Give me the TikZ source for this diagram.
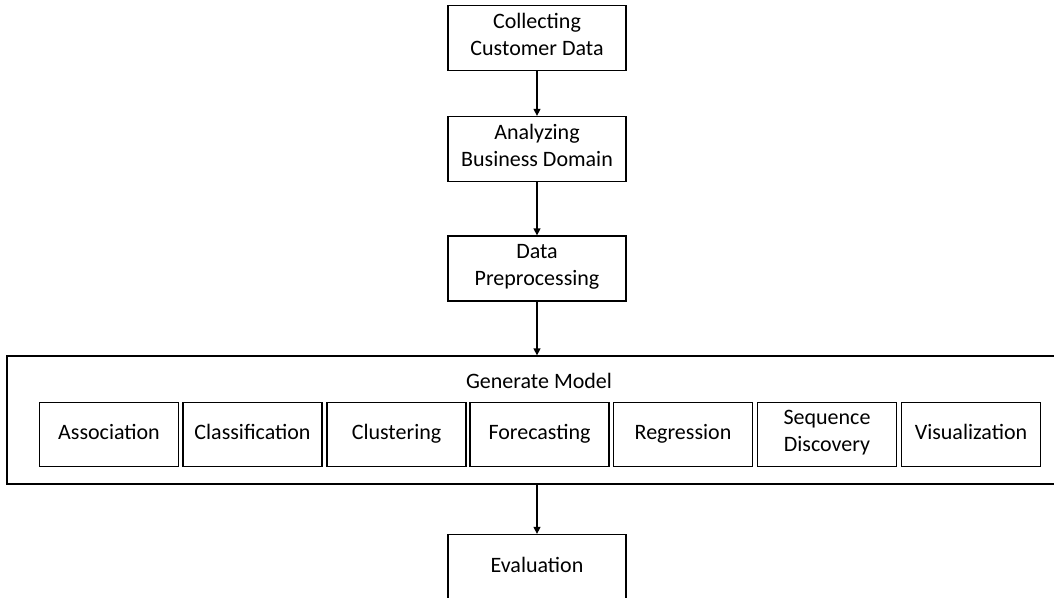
\documentclass[tikz,border=0pt]{standalone}
\usepackage{fontspec}
\setmainfont{Carlito}
\usetikzlibrary{arrows.meta}
\begin{document}
\begin{tikzpicture}[
  x=1pt, y=-1pt,
  font=\fontsize{22}{27}\selectfont,
  box/.style={draw, line width=1.3pt, align=center, inner sep=0pt, minimum width=178pt, minimum height=65pt, execute at begin node=\strut},
  algo/.style={draw, line width=1.3pt, align=center, inner sep=0pt, minimum width=139pt, minimum height=64pt, execute at begin node=\strut},
  arrow/.style={-{Triangle[length=7pt,width=7pt]}, line width=1.3pt}
]
\useasboundingbox (0,0) rectangle (1054,597);
\node[box] (collect) at (537,38) {Collecting\\Customer Data};
\node[box] (analyze) at (537,149) {Analyzing\\Business Domain};
\node[box] (prep) at (537,268.5) {Data\\Preprocessing};
\node[draw, line width=1.3pt, minimum width=1060pt, minimum height=128pt] (model) at (537,420) {};
\node (modeltitle) at (539,381) {Generate Model};
\node[algo] (assoc) at (109,434.5) {Association};
\node[algo] (classif) at (252.5,434.5) {Classification};
\node[algo] (cluster) at (396.5,434.5) {Clustering};
\node[algo] (forecast) at (539.5,434.5) {Forecasting};
\node[algo] (regress) at (683,434.5) {Regression};
\node[algo] (sequence) at (827,434.5) {Sequence\\Discovery};
\node[algo] (visual) at (971,434.5) {Visualization};
\node[box] (eval) at (537,567) {Evaluation};
\draw[arrow] (collect) -- (analyze);
\draw[arrow] (analyze) -- (prep);
\draw[arrow] (prep) -- (model);
\draw[arrow] (model) -- (eval);
\end{tikzpicture}
\end{document}
